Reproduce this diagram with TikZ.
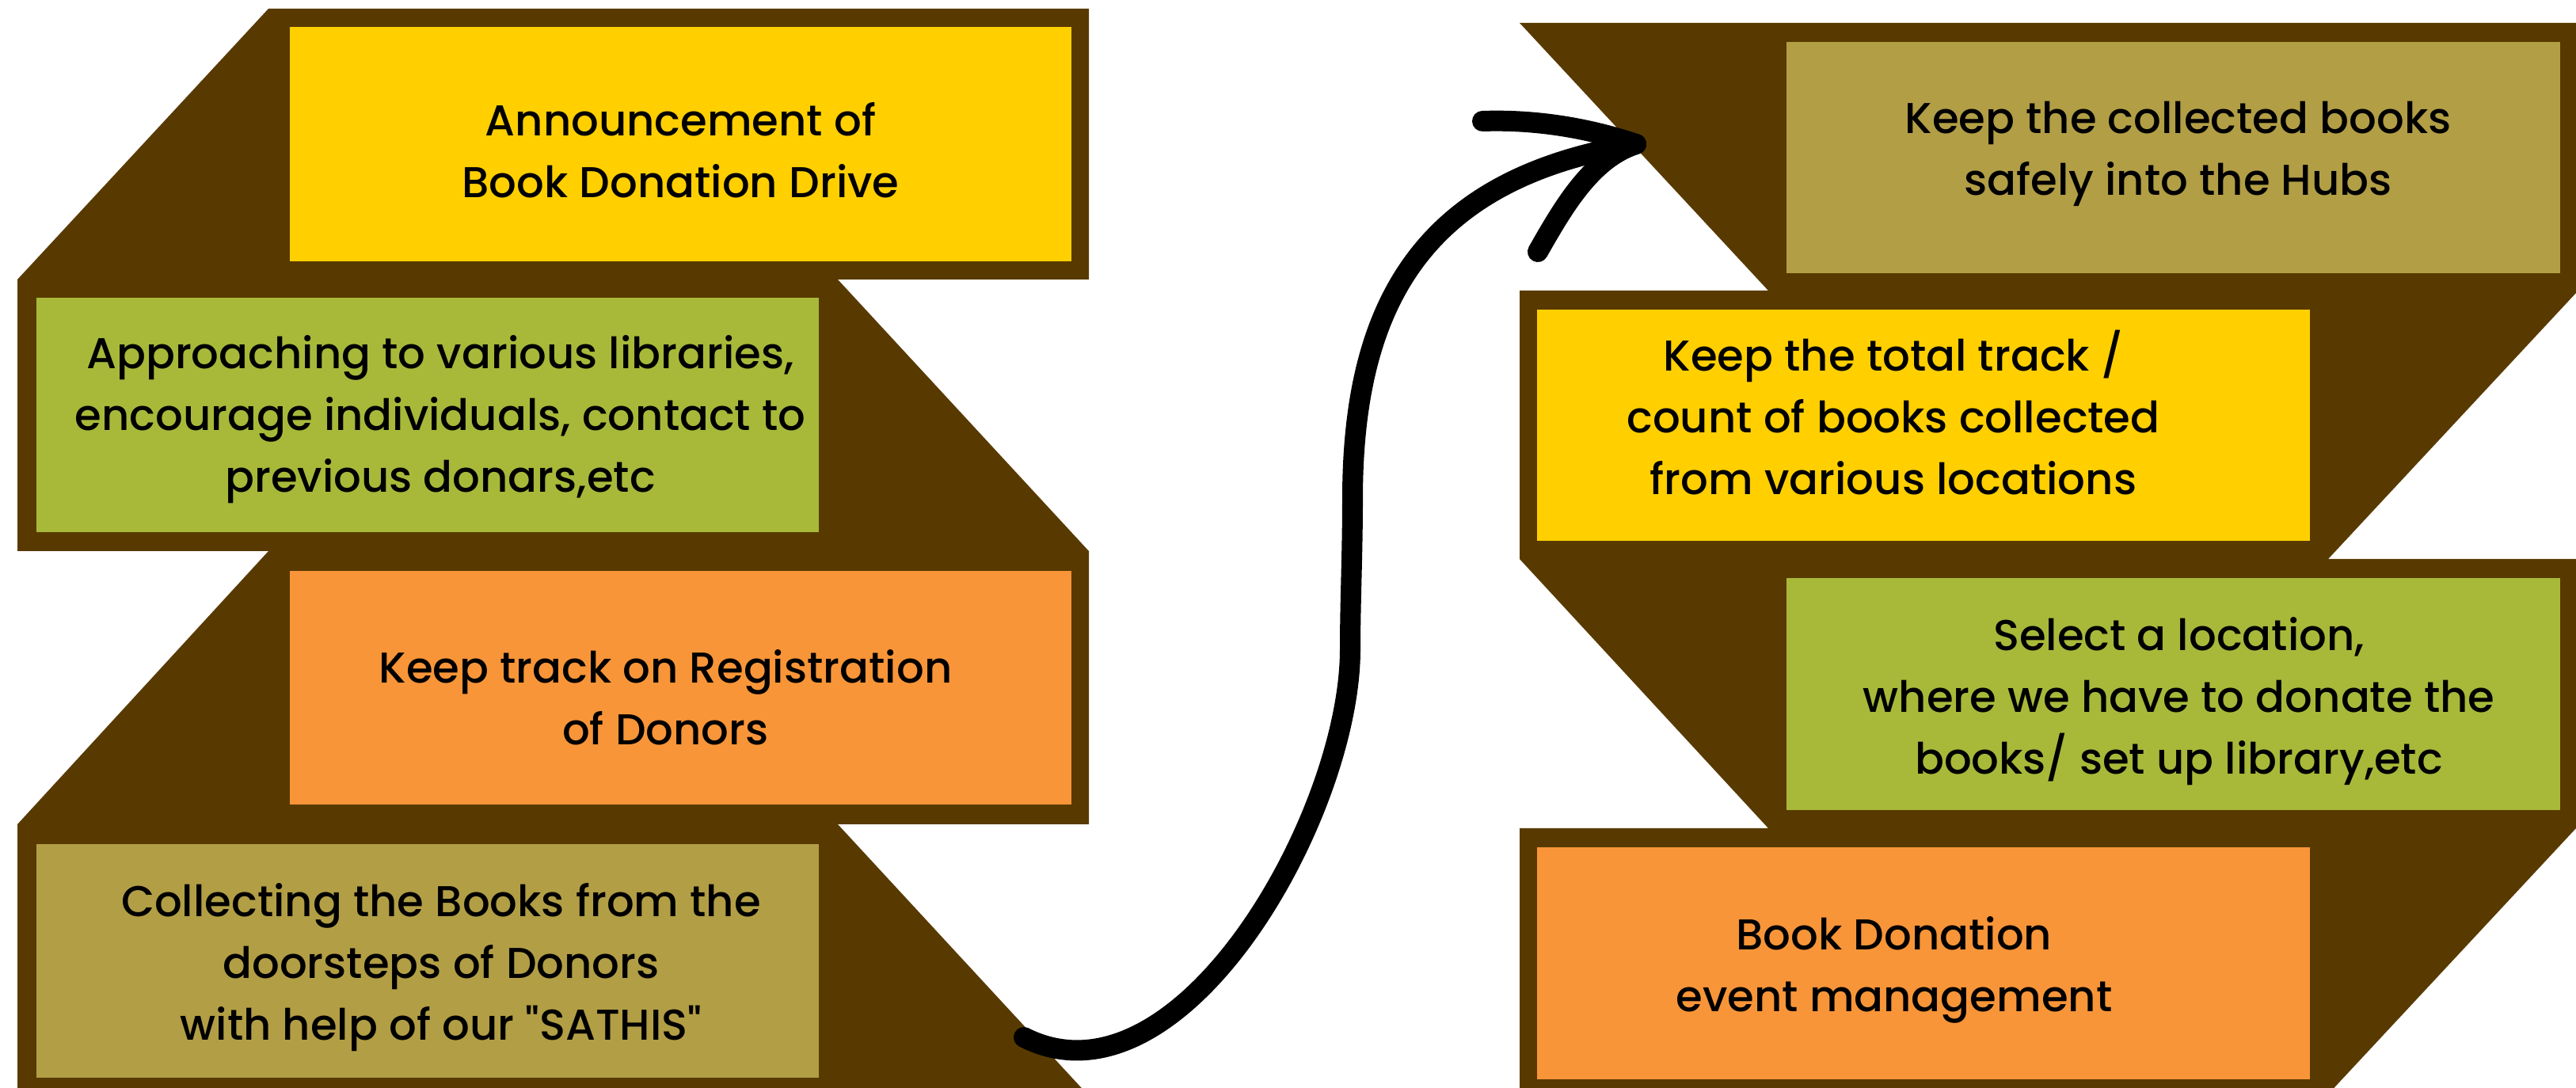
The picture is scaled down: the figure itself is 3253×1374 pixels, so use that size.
\documentclass[tikz,border=0pt]{standalone}
\usepackage{fontspec}
\setmainfont{Poppins}[UprightFont=* Medium]
\usepackage{tikz}
\usepackage{xcolor}
\definecolor{band-brown}{RGB}{88,58,0}
\definecolor{step-yellow}{RGB}{255,207,0}
\definecolor{step-green}{RGB}{168,185,58}
\definecolor{step-orange}{RGB}{248,149,56}
\definecolor{step-olive}{RGB}{178,158,69}
\tikzset{
    band/.style = {fill=band-brown},
    step-box/.style = {rectangle, inner sep=0pt, minimum width=9.87cm, minimum height=2.95cm},
    step-box-right/.style = {step-box, minimum width=9.76cm, minimum height=2.92cm},
    step-text/.style = {align=center, inner sep=0pt, font=\fontsize{15.5}{22.2}\selectfont},
    curvy-arrow/.style = {draw=black, line width=0.26cm, line cap=round, line join=round},
}

\begin{document}
\begin{tikzpicture}[x=0.01cm, y=-0.01cm]
\clip (0,0) rectangle (3253,1374);
\fill[white] (0,0) rectangle (3253,1374);

\fill[band] (339,11) -- (1375,11) -- (1375,353) -- (1058,353) -- (1375,696) -- (1375,1041)
    -- (1058,1041) -- (1375,1384) -- (22,1384) -- (22,1041) -- (339,696) -- (22,696) -- (22,353) -- cycle;
\fill[band] (1919,29) -- (3253,29) -- (3253,370) -- (2940,706) -- (3253,706) -- (3253,1046)
    -- (2938,1384) -- (1919,1384) -- (1919,1046) -- (2233,1046) -- (1919,706) -- (1919,367) -- (2233,367) -- cycle;

\node[step-box, fill=step-yellow] (announce) at (859.5,182) {};
\node[step-box, fill=step-green] (approach) at (540,524) {};
\node[step-box, fill=step-orange] (register) at (859.5,868.5) {};
\node[step-box, fill=step-olive] (collect) at (540,1213.5) {};
\node[step-box-right, fill=step-olive] (hubs) at (2744.5,199) {};
\node[step-box-right, fill=step-yellow] (count) at (2429,537) {};
\node[step-box-right, fill=step-green] (location) at (2744.5,876.5) {};
\node[step-box-right, fill=step-orange] (event) at (2429,1216.5) {};

\node[step-text] (announce-text) at ([yshift=-0.08cm]announce.center) {Announcement of\\Book Donation Drive};
\node[step-text] (approach-text) at ([xshift=0.16cm, yshift=-0.06cm]approach.center) {Approaching to various libraries,\\encourage individuals, contact to\\previous donars,etc};
\node[step-text] (register-text) at ([xshift=-0.19cm, yshift=-0.12cm]register.center) {Keep track on Registration\\of Donors};
\node[step-text] (collect-text) at ([xshift=0.17cm, yshift=-0.08cm]collect.center) {Collecting the Books from the\\doorsteps of Donors\\with help of our \textquotedbl SATHIS\textquotedbl};
\node[step-text] (hubs-text) at ([xshift=0.06cm, yshift=0.05cm]hubs.center) {Keep the collected books\\safely into the Hubs};
\node[step-text] (count-text) at ([xshift=-0.38cm, yshift=0.16cm]count.center) {Keep the total track /\\count of books collected\\from various locations};
\node[step-text] (location-text) at ([xshift=0.07cm, yshift=-0.09cm]location.center) {Select a location,\\where we have to donate the\\books/ set up library,etc};
\node[step-text] (event-text) at ([xshift=-0.37cm, yshift=-0.08cm]event.center) {Book Donation\\event management};

\coordinate (arrow-start) at (1293,1310);
\coordinate (arrow-bend) at (1705,820);
\coordinate (arrow-rise) at (1708,630);
\coordinate (arrow-tip) at (2066,182);
\coordinate (barb-up) at (1872,153);
\coordinate (barb-low) at (1942,318);
\draw[curvy-arrow] (arrow-start) .. controls (1490,1410) and (1705,1030) .. (arrow-bend)
    .. controls (1705,760) and (1708,700) .. (arrow-rise)
    .. controls (1708,380) and (1800,225) .. (arrow-tip);
\draw[curvy-arrow] (barb-up) .. controls (1960,150) and (2030,170) .. (arrow-tip)
    .. controls (2010,200) and (1975,260) .. (barb-low);
\end{tikzpicture}
\end{document}
